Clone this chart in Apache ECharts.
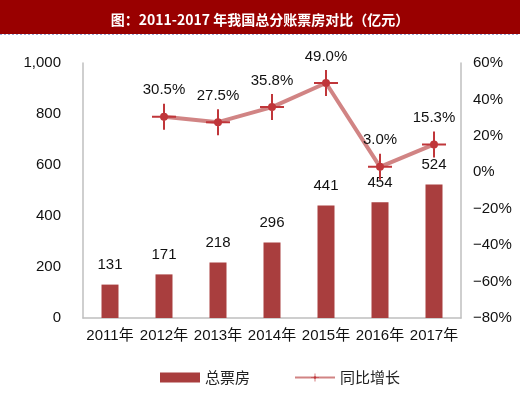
<!DOCTYPE html>
<html><head><meta charset="utf-8">
<script src="https://cdn.jsdelivr.net/npm/echarts@6/dist/echarts.min.js"></script>
<style>html,body{margin:0;padding:0;background:#fff}#c{width:520px;height:396px}</style>
</head><body><div id="c"></div>
<script>
const categories = ['2011年','2012年','2013年','2014年','2015年','2016年','2017年'];
const boxOffice = [131, 171, 218, 296, 441, 454, 524];
const growth = [null, 30.5, 27.5, 35.8, 49.0, 3.0, 15.3];
const titleText = '图：2011-2017 年我国总分账票房对比（亿元）';
const seriesNames = ['总票房', '同比增长'];

const font = 'Liberation Sans, Arial, Noto Sans CJK SC';
const chart = echarts.init(document.getElementById('c'), null, {renderer: 'canvas'});
const cross = 'path://M0,12H24V14H0Z M11,0H13V26H11Z M8,13A4,4,0,1,1,16,13A4,4,0,1,1,8,13Z';
chart.setOption({
  animation: false,
  graphic: [
    {type: 'rect', shape: {x: 0, y: 0, width: 520, height: 34}, style: {fill: '#990000'}, z: 0},
    {type: 'line', shape: {x1: 0, y1: 34.5, x2: 520, y2: 34.5}, style: {stroke: '#9aa6d6', lineWidth: 1, lineDash: [2, 2]}}
  ],
  title: {
    text: titleText, left: 'center', top: 8,
    textStyle: {color: '#fff', fontSize: 14, fontWeight: 'bold', fontFamily: 'Noto Sans CJK SC'}
  },
  grid: {left: 83, right: 59, top: 63, bottom: 78},
  legend: {
    bottom: 6, left: 155, itemWidth: 40, itemHeight: 10, itemGap: 44,
    textStyle: {fontSize: 15, color: '#222', fontFamily: 'Noto Sans CJK SC'},
    data: [{name: seriesNames[0], icon: 'rect'}, {name: seriesNames[1]}]
  },
  xAxis: {
    type: 'category', data: categories,
    axisLine: {lineStyle: {color: '#bfbfbf', width: 1.5}},
    axisTick: {show: false},
    axisLabel: {color: '#111', fontSize: 15, fontFamily: font, margin: 10, interval: 0}
  },
  yAxis: [
    {
      type: 'value', min: 0, max: 1000, interval: 200,
      axisLine: {show: true, lineStyle: {color: '#bfbfbf', width: 1.5}},
      axisTick: {show: false}, splitLine: {show: false},
      axisLabel: {color: '#111', fontSize: 15, fontFamily: font, margin: 22,
        formatter: v => v === 1000 ? '1,000' : String(v)}
    },
    {
      type: 'value', min: -80, max: 60, interval: 20,
      axisLine: {show: true, lineStyle: {color: '#bfbfbf', width: 1.5}},
      axisTick: {show: false}, splitLine: {show: false},
      axisLabel: {color: '#111', fontSize: 15, fontFamily: font, margin: 12,
        formatter: v => (v < 0 ? '\u2212' + Math.abs(v) : v) + '%'}
    }
  ],
  series: [
    {
      name: seriesNames[0], type: 'bar', data: boxOffice, barWidth: 17,
      itemStyle: {color: '#A93E3E'},
      label: {show: true, position: 'top', distance: 12, color: '#111', fontSize: 15, fontFamily: font}
    },
    {
      name: seriesNames[1], type: 'line', yAxisIndex: 1, data: growth,
      symbol: cross, symbolSize: [24, 26],
      lineStyle: {color: 'rgba(201,110,110,0.85)', width: 4},
      itemStyle: {color: '#C0363A'},
      label: {show: true, position: 'top', distance: 6, color: '#111', fontSize: 15, fontFamily: font,
        formatter: p => p.value.toFixed(1) + '%'}
    }
  ]
});
</script></body></html>
